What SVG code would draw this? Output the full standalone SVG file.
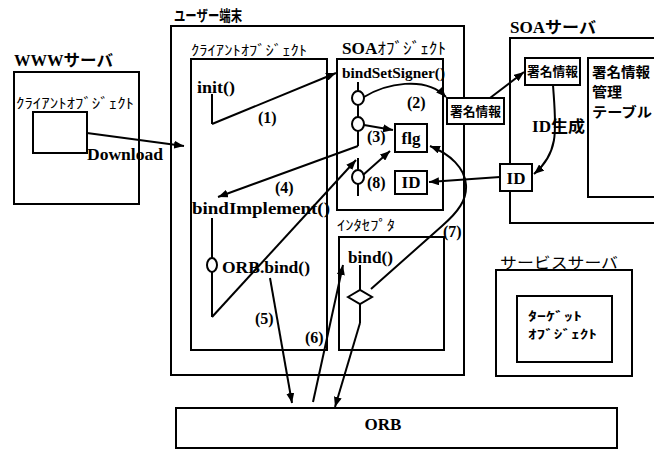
<svg xmlns="http://www.w3.org/2000/svg" width="654" height="449" viewBox="0 0 654 449">
<style>
.bx{fill:#fff;stroke:#000;stroke-width:2}
.nf{fill:none;stroke:#000;stroke-width:2}
.ln{fill:none;stroke:#000;stroke-width:2}
.ar{fill:none;stroke:#000;stroke-width:2;marker-end:url(#ah)}
.ov{fill:#fff;stroke:#000;stroke-width:2}
.t{font-family:"Liberation Serif","Noto Sans CJK JP",serif;font-weight:bold;fill:#000}
.j{font-family:"Noto Sans CJK JP",sans-serif;fill:#000}
.n{font-family:"Liberation Serif",serif;font-weight:bold;font-size:16px;fill:#000}
</style>
<defs>
<marker id="ah" markerUnits="userSpaceOnUse" markerWidth="10" markerHeight="8" refX="10" refY="4" orient="auto"><path d="M0,0 L10,4 L0,8 z" fill="#000"/></marker>
</defs>
<rect width="654" height="449" fill="#fff"/>

<g id="www-server">
<text class="t" x="14" y="66" font-size="16" textLength="99" lengthAdjust="spacingAndGlyphs">WWWサーバ</text>
<rect class="nf" x="14" y="72" width="125" height="132"/>
<text class="j" x="16" y="108" font-size="14" textLength="118" lengthAdjust="spacingAndGlyphs">ｸﾗｲｱﾝﾄｵﾌﾞｼﾞｪｸﾄ</text>
<rect class="nf" x="33" y="112" width="54" height="41"/>
<text class="t" x="87" y="160" font-size="16" textLength="76" lengthAdjust="spacingAndGlyphs">Download</text>
</g>

<g id="user-terminal">
<text class="j" x="174" y="21" font-size="15" font-weight="bold" textLength="68" lengthAdjust="spacingAndGlyphs">ユーザー端末</text>
<rect class="nf" x="171" y="26" width="293" height="349"/>
</g>

<g id="client-object">
<text class="j" x="191" y="55" font-size="14" textLength="116" lengthAdjust="spacingAndGlyphs">ｸﾗｲｱﾝﾄｵﾌﾞｼﾞｪｸﾄ</text>
<rect class="nf" x="191" y="59" width="136" height="291"/>
<text class="t" x="197" y="93" font-size="17" textLength="38" lengthAdjust="spacingAndGlyphs">init()</text>
<line class="ln" x1="212" y1="94" x2="212" y2="124"/>
<text class="t" x="192" y="214" font-size="17" textLength="138" lengthAdjust="spacingAndGlyphs">bindImplement()</text>
<line class="ln" x1="212" y1="218" x2="212" y2="317"/>
<ellipse class="ov" cx="212" cy="265" rx="5" ry="7"/>
<text class="t" x="222" y="273" font-size="17" textLength="88" lengthAdjust="spacingAndGlyphs">ORB.bind()</text>
</g>

<g id="soa-object">
<text class="t" x="342" y="54" font-size="16" textLength="104" lengthAdjust="spacingAndGlyphs">SOA<tspan class="j" font-weight="normal">ｵﾌﾞｼﾞｪｸﾄ</tspan></text>
<rect class="nf" x="337" y="59" width="106" height="151"/>
<text class="t" x="342" y="78" font-size="15" textLength="103" lengthAdjust="spacingAndGlyphs">bindSetSigner()</text>
<line class="ln" x1="358" y1="82" x2="358" y2="146"/>
<ellipse class="ov" cx="358" cy="98" rx="6" ry="7"/>
<ellipse class="ov" cx="358" cy="124" rx="6" ry="7"/>
<line class="ln" x1="358" y1="158" x2="358" y2="196"/>
<ellipse class="ov" cx="358" cy="177" rx="6" ry="7"/>
</g>

<g id="flg">
<rect class="nf" x="395" y="124" width="32" height="28"/>
<text class="t" x="411" y="144" font-size="17" text-anchor="middle">flg</text>
</g>

<g id="id-local">
<rect class="nf" x="395" y="171" width="32" height="23"/>
<text class="t" x="411" y="188" font-size="17" text-anchor="middle">ID</text>
</g>

<g id="interceptor">
<text class="j" x="337" y="230" font-size="14" textLength="58" lengthAdjust="spacingAndGlyphs">ｲﾝﾀｾﾌﾟﾀ</text>
<rect class="nf" x="339" y="237" width="105" height="113"/>
<text class="t" x="348" y="263" font-size="17" textLength="45" lengthAdjust="spacingAndGlyphs">bind()</text>
<line class="ln" x1="360" y1="265" x2="360" y2="290"/>
<line class="ln" x1="360" y1="304" x2="360" y2="323"/>
<polygon class="ov" points="348,297 360,290 372,297 360,304"/>
</g>

<g id="signature-sent">
<rect class="bx" x="447" y="98" width="57" height="26"/>
<text class="j" x="450" y="116" font-size="13" font-weight="bold" textLength="51" lengthAdjust="spacingAndGlyphs">署名情報</text>
</g>

<g id="soa-server">
<text class="t" x="510" y="33" font-size="16" textLength="86" lengthAdjust="spacingAndGlyphs">SOAサーバ</text>
<path class="nf" d="M660,38 H510 V223 H660"/>
<rect class="nf" x="525" y="58" width="55" height="27"/>
<text class="j" x="527" y="76" font-size="13" font-weight="bold" textLength="51" lengthAdjust="spacingAndGlyphs">署名情報</text>
<rect class="nf" x="588" y="58" width="100" height="139"/>
<text class="j" x="592" y="77" font-size="14" font-weight="bold" textLength="58" lengthAdjust="spacingAndGlyphs">署名情報</text>
<text class="j" x="592" y="97" font-size="14" font-weight="bold" textLength="30" lengthAdjust="spacingAndGlyphs">管理</text>
<text class="j" x="592" y="117" font-size="14" font-weight="bold" textLength="60" lengthAdjust="spacingAndGlyphs">テーブル</text>
<text class="t" x="532" y="132" font-size="16" textLength="53" lengthAdjust="spacingAndGlyphs">ID生成</text>
</g>

<g id="id-server">
<rect class="bx" x="500" y="164" width="32" height="27"/>
<text class="t" x="516" y="184" font-size="17" text-anchor="middle">ID</text>
</g>

<g id="service-server">
<text class="j" x="500" y="268" font-size="15" textLength="118" lengthAdjust="spacingAndGlyphs">サービスサーバ</text>
<rect class="nf" x="496" y="270" width="136" height="106"/>
<rect class="nf" x="517" y="296" width="95" height="66"/>
<text class="j" x="528" y="321" font-size="12" font-weight="bold" textLength="54" lengthAdjust="spacingAndGlyphs">ﾀｰｹﾞｯﾄ</text>
<text class="j" x="528" y="339" font-size="12" font-weight="bold" textLength="69" lengthAdjust="spacingAndGlyphs">ｵﾌﾞｼﾞｪｸﾄ</text>
</g>

<g id="orb">
<rect class="nf" x="176" y="408" width="441" height="40"/>
<text class="t" x="383" y="430" font-size="17" text-anchor="middle">ORB</text>
</g>

<g id="connectors">
<line class="ar" x1="87" y1="133" x2="184" y2="146"/>
<line class="ar" x1="212" y1="124" x2="336" y2="73"/>
<path class="ar" d="M364,97 C385,84 425,75 446,97"/>
<line class="ar" x1="490" y1="98" x2="524" y2="72"/>
<path class="ar" d="M553,85 C556,128 560,152 534,174"/>
<line class="ar" x1="500" y1="177" x2="429" y2="182"/>
<line class="ar" x1="364" y1="125" x2="393" y2="130"/>
<line class="ar" x1="358" y1="146" x2="218" y2="197"/>
<line class="ar" x1="212" y1="317" x2="356" y2="160"/>
<line class="ar" x1="363" y1="175" x2="390" y2="151"/>
<line class="ar" x1="270" y1="278" x2="292" y2="403"/>
<line class="ar" x1="313" y1="402" x2="343" y2="265"/>
<line class="ar" x1="360" y1="323" x2="335" y2="407"/>
<path class="ar" d="M371,289 L442,226 C458,212 467,200 466,185 C465,168 450,154 430,146"/>
<text class="n" x="258" y="123">(1)</text>
<text class="n" x="407" y="108">(2)</text>
<text class="n" x="367" y="142">(3)</text>
<text class="n" x="275" y="193">(4)</text>
<text class="n" x="255" y="324">(5)</text>
<text class="n" x="305" y="343">(6)</text>
<text class="n" x="443" y="237">(7)</text>
<text class="n" x="367" y="188">(8)</text>
</g>
</svg>
